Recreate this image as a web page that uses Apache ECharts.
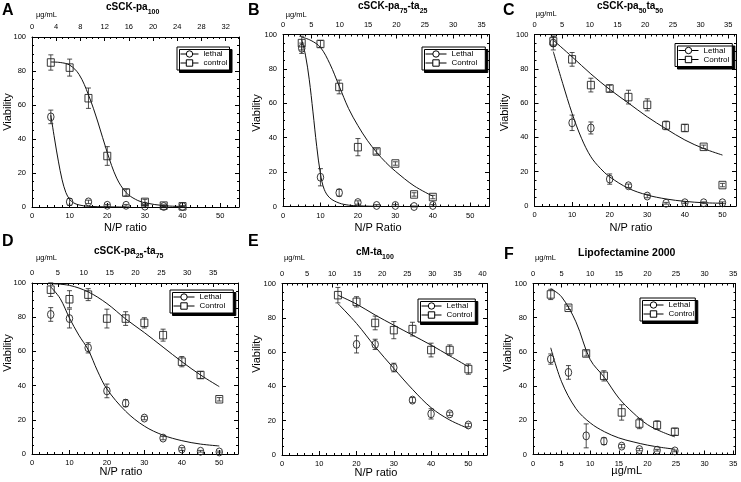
<!DOCTYPE html>
<html><head><meta charset="utf-8">
<script src="https://cdn.jsdelivr.net/npm/echarts@6/dist/echarts.min.js"></script>
<style>html,body{margin:0;padding:0;background:#fff}#c{width:741px;height:482px}</style>
</head><body><div id="c"></div><script>
// ---------------- DATA ----------------
// Panel A (N/P ratio)
const npA = [5, 10, 15, 20, 25, 30, 35, 40];
const lethalA = [53, 3, 3, 1, 1, 0.5, 0.3, 0.3];
const lethalErrA = [4, 2, 1, 0.5, 0.5, 0.5, 0.3, 0.3];
const controlA = [85, 82, 64, 30, 8.5, 3, 0.8, 0.4];
const controlErrA = [4.5, 5, 6, 5.5, 2, 1.5, 0.5, 0.3];
const fitLethalXA = [5, 6, 7, 8, 9, 10, 11, 12.5, 15, 20, 25];
const fitLethalYA = [54, 40, 27, 16, 8.5, 4.5, 2.5, 1.2, 0.4, 0.1, 0];
const fitControlXA = [5, 7.5, 10, 12.5, 15, 17.5, 20, 22.5, 25, 27.5, 30, 35, 40];
const fitControlYA = [85.3, 85, 83.5, 78, 66, 50, 32, 17, 8.5, 4.5, 2.5, 0.8, 0.3];

// Panel B
const npB = [5, 10, 15, 20, 25, 30, 35, 40];
const lethalB = [92, 17, 8, 2.3, 0.6, 0.6, 0, 0.6];
const lethalErrB = [3, 5, 2, 1, 0.5, 0.5, 0.3, 0.5];
const controlB = [95, 94.5, 69.5, 34.5, 32, 25, 7, 5.5];
const controlErrB = [4, 2, 4, 5, 1.5, 1, 1, 1];
const fitLethalXB = [5, 6, 7, 8, 9, 10, 11, 12.5, 15, 17.5, 20, 25];
const fitLethalYB = [97, 88, 74, 55, 35, 19, 10, 5, 2, 0.8, 0.4, 0.1];
const fitControlXB = [5, 7.5, 10, 12.5, 15, 17.5, 20, 22.5, 25, 27.5, 30, 35, 40];
const fitControlYB = [98.5, 96.5, 92.5, 83, 70, 57, 47, 38.5, 31.5, 25.5, 20.5, 12, 6];

// Panel C
const npC = [5, 10, 15, 20, 25, 30, 35, 40, 45, 50];
const lethalC = [95, 48.5, 45.5, 15.7, 11.8, 5.8, 1.6, 1.9, 1.9, 1.9];
const lethalErrC = [4, 4.5, 3.5, 3, 1, 1, 0.5, 0.5, 0.5, 0.5];
const controlC = [96, 85.5, 70.5, 68.5, 63.5, 59, 47, 45.5, 34.5, 12.2];
const controlErrC = [3, 4, 4, 2, 4, 3.5, 2.5, 2, 1, 1];
const fitLethalXC = [5, 7.5, 10, 12.5, 15, 17.5, 20, 25, 30, 35, 40, 45, 50];
const fitLethalYC = [90, 71.5, 54, 39.5, 28.7, 22, 17, 10.3, 6.4, 4.1, 2.7, 1.9, 1.6];
const fitControlXC = [5, 10, 15, 20, 25, 30, 35, 40, 45, 50];
const fitControlYC = [96.7, 87, 77, 68, 60, 52, 45, 38.5, 33.5, 29.7];

// Panel D
const npD = [5, 10, 15, 20, 25, 30, 35, 40, 45, 50];
const lethalD = [81.6, 79.2, 62.1, 36.9, 29.7, 21, 9.3, 2.9, 1.6, 1.2];
const lethalErrD = [4, 5.5, 3, 4, 2, 1, 1, 0.8, 0.5, 0.5];
const controlD = [96.1, 90.5, 93.2, 79.2, 79.2, 76.7, 69.5, 54, 46.2, 32];
const controlErrD = [4, 5, 3.5, 5.5, 4, 3, 3.5, 3, 2, 1];
const fitLethalXD = [5, 7.5, 10, 12.5, 15, 17.5, 20, 25, 30, 35, 40, 45, 50];
const fitLethalYD = [97.7, 91, 79.5, 69.5, 61, 48.5, 38, 25, 16.3, 11, 7.8, 5.8, 4.7];
const fitControlXD = [5, 10, 15, 20, 25, 30, 35, 40, 45, 50];
const fitControlYD = [99.6, 98.6, 94.8, 88, 79, 71, 62.5, 54, 46.2, 39.4];

// Panel E
const npLethalE = [20, 25, 30, 35, 40, 45, 50];
const lethalE = [64.5, 64.5, 51, 32, 24, 24, 17.5];
const lethalErrE = [5, 3, 2.5, 1.5, 3, 1, 1];
const npControlE = [15, 20, 25, 30, 35, 40, 45, 50];
const controlE = [93.2, 89.3, 77, 72.8, 73.4, 61.2, 61.2, 50.1];
const controlErrE = [4.5, 3, 4, 5, 4, 4, 3, 3];
const fitLethalXE = [15, 20, 25, 30, 35, 40, 45, 50];
const fitLethalYE = [88.3, 76.7, 63.1, 50.5, 38.3, 27.6, 20.4, 15.5];
const fitControlXE = [15, 20, 25, 30, 35, 40, 45, 50];
const fitControlYE = [93.2, 88, 81.6, 75.7, 69.9, 64.1, 57.8, 51.5];

// Panel F (µg/mL)
const ugF = [3.1, 6.2, 9.3, 12.4, 15.5, 18.6, 21.7, 24.8];
const lethalF = [55.8, 48, 10.9, 7.8, 4.9, 2.9, 2.5, 2.1];
const lethalErrF = [3, 4, 7, 2, 1, 0.7, 0.5, 0.5];
const controlF = [93.6, 85.8, 59.1, 46, 24.6, 18.1, 17.2, 13.3];
const controlErrF = [3, 1, 1.5, 3, 4.5, 3, 2.5, 2];
const fitLethalXF = [3.1, 5, 7.5, 10, 12.5, 15, 17.5, 20, 22.5, 24.8];
const fitLethalYF = [62.4, 42.5, 26.9, 18.5, 13.3, 9.7, 7.4, 5.5, 4.1, 3.1];
const fitControlXF = [3.1, 5, 7.5, 10, 12.5, 15, 17.5, 20, 22.5, 24.8];
const fitControlYF = [97, 92.2, 77.6, 55.5, 45, 33, 24.4, 17.5, 13.3, 10.3];

// Texts
const panelLetters = ['A', 'B', 'C', 'D', 'E', 'F'];
const panelTitles = ['{m|cSCK-pa}{s|100}', '{m|cSCK-pa}{s|75}{m|-ta}{s|25}', '{m|cSCK-pa}{s|50}{m|ta}{s|50}',
  '{m|cSCK-pa}{s|25}{m|-ta}{s|75}', '{m|cM-ta}{s|100}', '{m|Lipofectamine 2000}'];
const xTitles = ['N/P ratio', 'N/P Ratio', 'N/P ratio', 'N/P ratio', 'N/P ratio', 'µg/mL'];
const yTitle = 'Viability';
const topUnit = 'µg/mL';
const legendNames = [['lethal', 'control'], ['Lethal', 'Control'], ['Lethal', 'Control'], ['Lethal', 'Control'], ['Lethal', 'Control'], ['Lethal', 'Control']];

// ---------------- LAYOUT ----------------
const FONT = '"Liberation Sans", Arial, Helvetica, sans-serif';
const zip2 = (a, b) => a.map((v, i) => [v, b[i]]);
const errs = (x, v, e) => x.map((xx, i) => [xx, v[i] - e[i], v[i] + e[i]]);

const panels = [
  { grid: [32, 37, 207, 170], bx: [0, 55, 10, 5], tx: [0, 34.2, 4, 4],
    d: [npA, lethalA, lethalErrA, npA, controlA, controlErrA, fitLethalXA, fitLethalYA, fitControlXA, fitControlYA],
    leg: { left: 177, top: 47, iw: 18, pr: 2 },
    letter: [2, 10.5], unit: [36, 14.5], title: [106, 10], xt: [125.5, 227.5], yt: [7.5, 112] },
  { grid: [283, 34.5, 206, 172], bx: [0, 55, 10, 5], tx: [0, 36.3, 5, 5],
    d: [npB, lethalB, lethalErrB, npB, controlB, controlErrB, fitLethalXB, fitLethalYB, fitControlXB, fitControlYB],
    leg: { left: 422, top: 47, iw: 21, pr: 8 },
    letter: [248, 10.5], unit: [285.7, 14.5], title: [358, 8.5], xt: [378, 227.5], yt: [256.7, 113] },
  { grid: [534.5, 34.5, 201.5, 171.5], bx: [0, 53.6, 10, 5], tx: [0, 36.4, 5, 5],
    d: [npC, lethalC, lethalErrC, npC, controlC, controlErrC, fitLethalXC, fitLethalYC, fitControlXC, fitControlYC],
    leg: { left: 675, top: 43.5, iw: 20, pr: 3 },
    letter: [503, 10.5], unit: [535.7, 14], title: [597, 8.7], xt: [631, 228], yt: [504.5, 112.5] },
  { grid: [32, 283, 206, 171], bx: [0, 55, 10, 5], tx: [0, 39.8, 5, 5],
    d: [npD, lethalD, lethalErrD, npD, controlD, controlErrD, fitLethalXD, fitLethalYD, fitControlXD, fitControlYD],
    leg: { left: 170, top: 290, iw: 21, pr: 8 },
    letter: [2, 241.5], unit: [36, 258], title: [94, 254], xt: [121, 471.5], yt: [7.5, 353] },
  { grid: [282, 283.5, 205, 171.5], bx: [0, 55, 10, 5], tx: [0, 40.9, 5, 5],
    d: [npLethalE, lethalE, lethalErrE, npControlE, controlE, controlErrE, fitLethalXE, fitLethalYE, fitControlXE, fitControlYE],
    leg: { left: 418, top: 299, iw: 20, pr: 3 },
    letter: [248, 241.5], unit: [284, 258], title: [356, 255], xt: [376, 473], yt: [256.7, 354] },
  { grid: [533, 283.5, 202.5, 171], bx: [0, 35.4, 5, 5], tx: [0, 35.4, 5, 5],
    d: [ugF, lethalF, lethalErrF, ugF, controlF, controlErrF, fitLethalXF, fitLethalYF, fitControlXF, fitControlYF],
    leg: { left: 640, top: 298, iw: 20, pr: 1 },
    letter: [504, 255], unit: [535, 258], title: [578, 256], xt: [626.7, 471], yt: [508, 353] }
];

const grids = [], xAxes = [], yAxes = [], series = [], legends = [], graphics = [];

function xAxis(g, pos, cfg) {
  return { type: 'value', gridIndex: g, position: pos, min: cfg[0], max: cfg[1], interval: cfg[2],
    axisLine: { show: true, onZero: false, lineStyle: { color: '#000', width: 1 } },
    axisTick: { show: true, inside: true, length: 4, lineStyle: { color: '#000', width: 1 } },
    minorTick: { show: true, splitNumber: cfg[3], length: 2, lineStyle: { color: '#000', width: 1 } },
    splitLine: { show: false }, minorSplitLine: { show: false },
    axisLabel: { show: true, showMaxLabel: false, margin: pos === 'top' ? 6 : 5, fontSize: 7.5, color: '#000', fontFamily: FONT } };
}
function yAxis(g, pos) {
  return { type: 'value', gridIndex: g, position: pos, min: 0, max: 100, interval: 20,
    axisLine: { show: true, onZero: false, lineStyle: { color: '#000', width: 1 } },
    axisTick: { show: true, inside: true, length: 4, lineStyle: { color: '#000', width: 1 } },
    minorTick: { show: true, splitNumber: 4, length: 2, lineStyle: { color: '#000', width: 1 } },
    splitLine: { show: false }, minorSplitLine: { show: false },
    axisLabel: { show: pos === 'left', margin: 6, fontSize: 7.5, color: '#000', fontFamily: FONT } };
}
function errRender(params, api) {
  const x = api.value(0), lo = api.value(1), hi = api.value(2);
  const a = api.coord([x, hi]), b = api.coord([x, lo]);
  const w = 2.5, st = { stroke: '#222', lineWidth: 0.8 };
  return { type: 'group', children: [
    { type: 'line', shape: { x1: a[0], y1: a[1], x2: b[0], y2: b[1] }, style: st },
    { type: 'line', shape: { x1: a[0] - w, y1: a[1], x2: a[0] + w, y2: a[1] }, style: st },
    { type: 'line', shape: { x1: b[0] - w, y1: b[1], x2: b[0] + w, y2: b[1] }, style: st }
  ] };
}

panels.forEach((p, g) => {
  grids.push({ left: p.grid[0], top: p.grid[1], width: p.grid[2], height: p.grid[3], show: false, outerBoundsMode: 'none' });
  xAxes.push(xAxis(g, 'bottom', p.bx));
  xAxes.push(xAxis(g, 'top', p.tx));
  yAxes.push(yAxis(g, 'left'));
  yAxes.push(yAxis(g, 'right'));
  const xi = 2 * g, yi = 2 * g;
  const [lx, lv, le, cx, cv, ce, flx, fly, fcx, fcy] = p.d;
  const names = legendNames[g];
  const sym = ['circle', 'rect'];
  const sets = [[lx, lv, le, flx, fly], [cx, cv, ce, fcx, fcy]];
  sets.forEach((s, k) => {
    series.push({ type: 'line', name: names[k], xAxisIndex: xi, yAxisIndex: yi,
      data: zip2(s[3], s[4]), smooth: 0.35, showSymbol: false,
      symbol: sym[k], symbolSize: 7, silent: true, z: 2,
      lineStyle: { color: '#111', width: 1 },
      itemStyle: { color: '#fff', borderColor: '#000', borderWidth: 1 } });
    series.push({ type: 'scatter', name: names[k] + ' data', xAxisIndex: xi, yAxisIndex: yi,
      data: zip2(s[0], s[1]), symbol: sym[k], symbolSize: k === 0 ? [6.5, 8] : [7, 7.5], silent: true, z: 3,
      itemStyle: { color: 'rgba(0,0,0,0)', borderColor: '#222', borderWidth: 0.9, opacity: 1 } });
    series.push({ type: 'custom', name: names[k] + ' err', xAxisIndex: xi, yAxisIndex: yi,
      data: errs(s[0], s[1], s[2]), renderItem: errRender, silent: true, z: 4,
      encode: { x: 0, y: [1, 2] } });
  });
  legends.push({ left: p.leg.left, top: p.leg.top, orient: 'vertical', data: names,
    itemWidth: p.leg.iw, itemHeight: 8, itemGap: 1, padding: [3, p.leg.pr, 3, 3],
    backgroundColor: '#fff', borderColor: '#000', borderWidth: 1,
    shadowColor: '#000', shadowOffsetX: 2.5, shadowOffsetY: 2.5, shadowBlur: 0,
    itemStyle: { color: '#fff', borderColor: '#000', borderWidth: 1 },
    lineStyle: { color: '#000', width: 1 },
    selectedMode: false, textStyle: { fontSize: 8, color: '#000', fontFamily: FONT } });

  graphics.push({ type: 'text', x: p.letter[0], y: p.letter[1], silent: true,
    style: { text: panelLetters[g], font: 'bold 16px ' + FONT, fill: '#000', align: 'left', verticalAlign: 'middle', textAlign: 'left', textVerticalAlign: 'middle' } });
  graphics.push({ type: 'text', x: p.unit[0], y: p.unit[1], silent: true,
    style: { text: topUnit, font: '7.5px ' + FONT, fill: '#000', align: 'left', verticalAlign: 'middle', textAlign: 'left', textVerticalAlign: 'middle' } });
  graphics.push({ type: 'text', x: p.title[0], y: p.title[1] - 6, silent: true,
    style: { text: panelTitles[g], fill: '#000', align: 'left', verticalAlign: 'top', textAlign: 'left', textVerticalAlign: 'top',
      rich: {
        m: { fontSize: g === 5 ? 10.5 : 10, fontWeight: 'bold', fontFamily: FONT, lineHeight: 12, padding: [0, 0, 5, 0], fill: '#000', color: '#000' },
        s: { fontSize: 7, fontWeight: 'bold', fontFamily: FONT, lineHeight: 12, padding: [5, 0, 0, 0], fill: '#000', color: '#000' }
      } } });
  graphics.push({ type: 'text', x: p.xt[0], y: p.xt[1], silent: true,
    style: { text: xTitles[g], font: '11px ' + FONT, fill: '#000', align: 'center', verticalAlign: 'middle', textAlign: 'center', textVerticalAlign: 'middle' } });
  graphics.push({ type: 'text', x: p.yt[0], y: p.yt[1], rotation: Math.PI / 2, silent: true,
    style: { text: yTitle, font: '11px ' + FONT, fill: '#000', align: 'center', verticalAlign: 'middle', textAlign: 'center', textVerticalAlign: 'middle' } });
});

const chart = echarts.init(document.getElementById('c'), null, { renderer: 'canvas' });
chart.setOption({
  animation: false,
  backgroundColor: '#fff',
  grid: grids, xAxis: xAxes, yAxis: yAxes,
  legend: legends, series: series,
  graphic: { elements: graphics }
});
</script></body></html>
